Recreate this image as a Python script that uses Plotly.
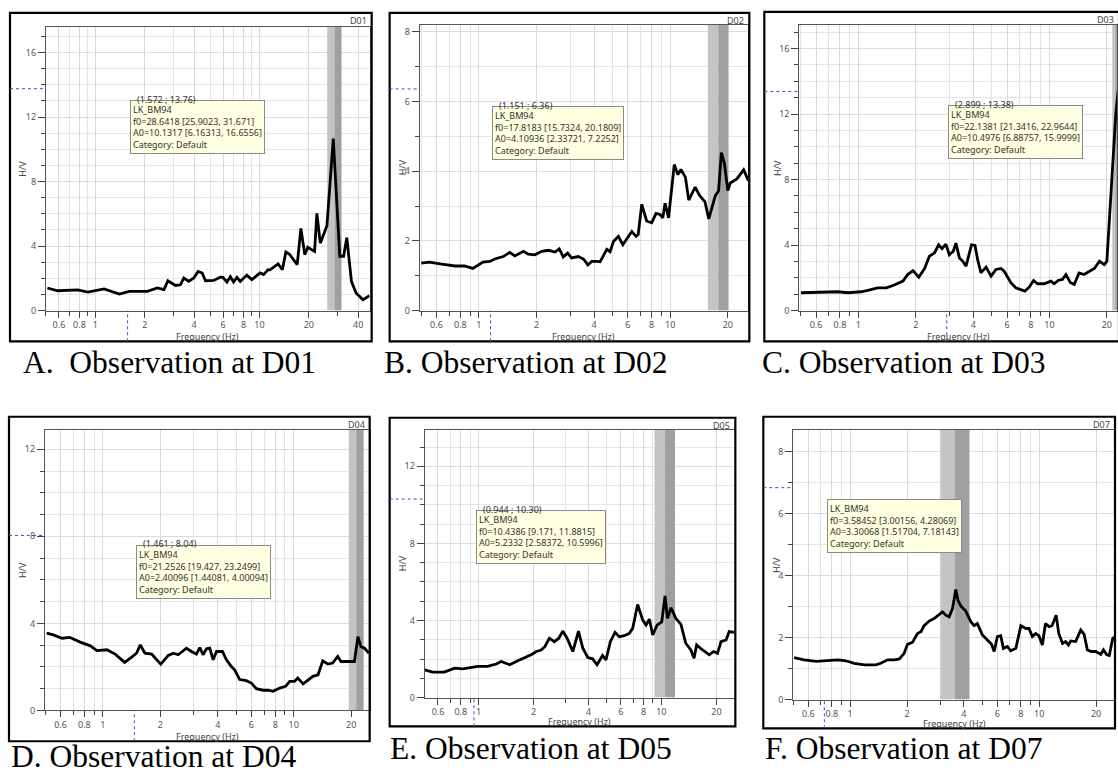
import numpy as np
import plotly.graph_objects as go

W, H = 1118, 778

# ---------------- data ----------------
d01_freq = [0.51, 0.59, 0.78, 0.90, 1.13, 1.40, 1.61, 2.07, 2.39, 2.62, 2.77, 3.08, 3.30, 3.46, 3.71,
            3.98, 4.23, 4.48, 4.69, 5.26, 5.78, 5.99, 6.34, 6.65, 6.96, 7.30, 7.64, 8.38, 8.99, 10.1,
            10.6, 11.3, 11.6, 13.0, 13.8, 14.5, 15.2, 17.0, 17.9, 18.9, 19.7, 21.7, 22.4, 23.5, 25.8,
            28.2, 30.9, 32.6, 34.1, 36.4, 38.9, 42.8, 46.9]
d01_hv = [1.40, 1.23, 1.28, 1.15, 1.34, 1.03, 1.19, 1.19, 1.40, 1.30, 1.85, 1.56, 1.60, 2.02, 1.81,
          2.02, 2.43, 2.33, 1.85, 1.87, 2.07, 2.06, 1.77, 2.10, 1.77, 2.06, 1.81, 2.20, 1.92, 2.33,
          2.23, 2.54, 2.53, 2.89, 2.54, 3.63, 3.51, 2.85, 5.10, 3.47, 3.92, 3.67, 6.03, 4.18, 5.26,
          10.66, 3.37, 3.37, 4.52, 1.80, 1.08, 0.67, 0.92]

d02_freq = [0.50, 0.55, 0.64, 0.75, 0.84, 0.93, 1.05, 1.14, 1.21, 1.34, 1.45, 1.54, 1.71, 1.81, 1.96,
            2.13, 2.31, 2.50, 2.63, 2.76, 2.91, 3.05, 3.31, 3.52, 3.71, 3.89, 4.13, 4.30, 4.66, 4.85,
            5.05, 5.36, 5.65, 5.93, 6.30, 6.63, 6.80, 7.10, 7.53, 8.00, 8.43, 8.85, 9.14, 9.40, 9.80,
            10.5, 10.97, 11.37, 12.0, 12.5, 13.5, 14.3, 15.2, 15.9, 17.2, 17.9, 18.5, 19.2, 20.0,
            20.6, 22.3, 24.2, 25.6]
d02_hv = [1.36, 1.39, 1.33, 1.28, 1.28, 1.21, 1.39, 1.41, 1.48, 1.55, 1.67, 1.57, 1.70, 1.62, 1.60,
          1.70, 1.73, 1.68, 1.77, 1.54, 1.65, 1.51, 1.55, 1.48, 1.31, 1.41, 1.41, 1.40, 1.76, 1.69,
          1.98, 2.13, 1.89, 2.05, 2.27, 2.13, 2.18, 3.05, 2.57, 2.52, 2.79, 2.76, 2.66, 3.08, 2.66,
          4.19, 3.90, 4.05, 3.83, 3.17, 3.54, 3.29, 3.12, 2.63, 3.29, 3.44, 4.53, 4.22, 3.44,
          3.66, 3.78, 4.04, 3.73]

d03_freq = [0.50, 0.64, 0.78, 0.88, 1.03, 1.12, 1.26, 1.40, 1.54, 1.71, 1.81, 1.93, 2.07, 2.22, 2.35,
            2.50, 2.63, 2.74, 2.87, 2.99, 3.14, 3.24, 3.38, 3.52, 3.66, 3.91, 4.08, 4.21, 4.38, 4.66,
            4.95, 5.25, 5.58, 5.80, 6.28, 6.67, 7.10, 7.44, 7.84, 8.26, 8.67, 9.39, 10.2, 10.6, 11.1,
            11.7, 12.2, 12.9, 13.5, 14.3, 15.2, 16.2, 17.2, 18.3, 19.4, 20.0, 21.0, 22.3, 23.0]
d03_hv = [1.09, 1.13, 1.15, 1.09, 1.15, 1.23, 1.39, 1.39, 1.56, 1.80, 2.20, 2.44, 2.04, 2.57, 3.31,
          3.52, 4.02, 3.78, 4.06, 3.41, 3.62, 4.12, 3.21, 3.01, 2.71, 4.02, 3.98, 3.11, 2.30, 2.65,
          2.10, 2.51, 2.57, 2.40, 1.70, 1.39, 1.29, 1.19, 1.43, 1.84, 1.64, 1.64, 1.80, 1.64, 1.84,
          1.90, 2.20, 1.70, 1.60, 2.30, 2.20, 2.40, 2.57, 3.01, 2.81, 3.01, 6.85, 12.1, 13.6]

d04_freq = [0.507, 0.55, 0.61, 0.67, 0.76, 0.86, 0.93, 1.05, 1.16, 1.30, 1.41, 1.50, 1.57, 1.66, 1.80,
            2.01, 2.20, 2.34, 2.48, 2.74, 2.91, 3.09, 3.22, 3.35, 3.49, 3.63, 3.78, 3.94, 4.23, 4.44,
            4.71, 4.90, 5.21, 5.64, 6.00, 6.37, 6.91, 7.34, 7.79, 8.44, 9.07, 9.52, 10.1, 10.5, 11.2,
            11.9, 12.6, 13.4, 14.2, 15.1, 16.0, 17.0, 17.7, 19.6, 20.8, 21.7, 22.5, 23.5, 24.8]
d04_hv = [3.55, 3.47, 3.32, 3.36, 3.14, 2.97, 2.75, 2.79, 2.59, 2.21, 2.44, 2.63, 3.01, 2.63, 2.59,
          2.13, 2.53, 2.63, 2.56, 2.86, 2.71, 2.59, 2.89, 2.56, 2.83, 2.86, 2.33, 2.71, 2.71, 2.33,
          2.02, 1.87, 1.42, 1.37, 1.26, 1.00, 0.93, 0.93, 0.88, 1.03, 1.11, 1.34, 1.34, 1.49, 1.22,
          1.42, 1.57, 1.64, 2.28, 2.13, 2.18, 2.48, 2.25, 2.25, 2.25, 3.39, 2.94, 2.86, 2.63]

d05_freq = [0.507, 0.56, 0.65, 0.74, 0.82, 0.91, 0.99, 1.12, 1.25, 1.33, 1.48, 1.64, 1.82, 1.94, 2.07,
            2.20, 2.31, 2.44, 2.60, 2.75, 2.89, 3.05, 3.28, 3.52, 3.72, 3.96, 4.21, 4.45, 4.77, 4.98,
            5.26, 5.58, 5.89, 6.27, 6.68, 6.97, 7.42, 7.91, 8.25, 8.60, 8.97, 9.47, 10.05, 10.48, 10.8,
            11.3, 12.0, 12.8, 13.6, 14.5, 15.1, 15.6, 16.8, 18.3, 19.3, 20.3, 21.2, 22.6, 23.5, 25.0]
d05_hv = [1.44, 1.32, 1.32, 1.53, 1.49, 1.56, 1.62, 1.62, 1.74, 1.87, 1.70, 1.91, 2.08, 2.22, 2.39,
          2.47, 2.65, 3.08, 2.90, 3.08, 3.45, 3.08, 2.39, 3.45, 2.56, 2.08, 2.01, 1.70, 2.18, 1.96,
          2.90, 3.38, 3.16, 3.21, 3.33, 3.59, 4.83, 4.02, 3.76, 4.07, 3.25, 3.76, 3.93, 5.27, 4.11,
          4.66, 4.11, 3.80, 2.82, 2.47, 2.04, 2.73, 2.47, 2.22, 2.39, 2.30, 2.90, 2.99, 3.42, 3.38]

d07_freq = [0.505, 0.57, 0.66, 0.76, 0.86, 0.95, 1.05, 1.19, 1.37, 1.45, 1.58, 1.71, 1.82, 1.93, 2.01,
            2.14, 2.27, 2.37, 2.46, 2.62, 2.78, 2.93, 3.08, 3.21, 3.34, 3.48, 3.62, 3.72, 3.85, 4.09,
            4.35, 4.53, 4.71, 5.01, 5.33, 5.60, 5.78, 6.01, 6.26, 6.47, 6.79, 7.07, 7.53, 8.00, 8.50,
            8.84, 9.20, 9.58, 9.97, 10.4, 10.8, 11.3, 11.7, 12.3, 12.7, 13.3, 13.8, 14.3, 14.7, 15.6,
            16.6, 17.3, 18.0, 18.9, 19.9, 21.2, 21.9, 22.8, 23.5, 24.5, 25.2]
d07_hv = [1.35, 1.28, 1.23, 1.25, 1.28, 1.25, 1.17, 1.12, 1.12, 1.17, 1.28, 1.28, 1.31, 1.49, 1.78,
          1.85, 2.13, 2.19, 2.38, 2.53, 2.61, 2.72, 2.83, 2.72, 2.67, 2.93, 3.55, 3.20, 3.02, 2.85,
          2.51, 2.38, 2.45, 2.08, 1.92, 1.78, 1.55, 2.03, 2.06, 1.65, 1.71, 1.57, 1.65, 2.38, 2.29,
          2.29, 2.03, 2.13, 2.06, 1.76, 2.45, 2.35, 2.38, 2.72, 2.13, 1.81, 1.87, 1.76, 1.89, 1.87,
          2.24, 2.10, 1.60, 1.55, 1.55, 1.46, 1.60, 1.44, 1.42, 1.97, 2.03]

station_ids = ["D01", "D02", "D03", "D04", "D05", "D07"]
caption_texts = ["A.  Observation at D01", "B. Observation at D02", "C. Observation at D03",
                 "D. Observation at D04", "E. Observation at D05", "F. Observation at D07"]
f0_values = [28.6418, 17.8183, 22.1381, 21.2526, 10.4386, 3.58452]
f0_low = [25.9023, 15.7324, 21.3416, 19.427, 9.171, 3.00156]
f0_high = [31.671, 20.1809, 22.9644, 23.2499, 11.8815, 4.28069]
a0_values = ["10.1317", "4.10936", "10.4976", "2.40096", "5.2332", "3.30068"]
a0_low = ["6.16313", "2.33721", "6.88757", "1.44081", "2.58372", "1.51704"]
a0_high = ["16.6556", "7.2252", "15.9999", "4.00094", "10.5996", "7.18143"]
f0_texts = ["28.6418", "17.8183", "22.1381", "21.2526", "10.4386", "3.58452"]
f0_low_texts = ["25.9023", "15.7324", "21.3416", "19.427", "9.171", "3.00156"]
f0_high_texts = ["31.671", "20.1809", "22.9644", "23.2499", "11.8815", "4.28069"]
cursor_f = [1.572, 1.151, 2.899, 1.461, 0.944, 0.73]
cursor_hv = [13.76, 6.36, 13.38, 8.04, 10.30, 6.83]
cursor_texts = ["(1.572 ; 13.76)", "(1.151 ; 6.36)", "(2.899 ; 13.38)", "(1.461 ; 8.04)",
                "(0.944 ; 10.30)", None]

freqs = [d01_freq, d02_freq, d03_freq, d04_freq, d05_freq, d07_freq]
hvs = [d01_hv, d02_hv, d03_hv, d04_hv, d05_hv, d07_hv]

x_range = [(0.5, 47.0), (0.49, 25.6), (0.49, 22.6), (0.497, 25.0), (0.507, 25.4), (0.5, 25.2)]
y_max = [17.6, 8.2, 17.45, 12.9, 13.9, 8.7]
y_major_step = [4, 2, 4, 4, 4, 2]
x_major = [0.6, 0.8, 1, 2, 4, 6, 8, 10, 20, 40]
x_major_text = ["0.6", "0.8", "1", "2", "4", "6", "8", "10", "20", "40"]
x_minor = [0.5, 0.7, 0.9, 3, 5, 7, 9, 30, 50]

# ---------------- layout boxes (pixels) ----------------
plot_px = [(46, 27, 370, 313), (420, 25, 749, 313), (800, 25, 1118, 313),
           (45, 433, 370, 716), (425, 433, 736, 703), (794, 433, 1116, 705)]
frame_px = [(10, 13, 372, 344), (390, 13, 750, 344), (765, 12, 1120, 344),
            (9, 420, 370, 747), (390, 421, 736, 732), (764, 420, 1116, 734)]
caption_px = [(21, 365), (382, 365), (761, 365), (9, 762), (388, 754), (764, 754)]
tooltip_px = [(130, 101), (492, 107), (949, 106), (136, 549), (476, 514), (828, 503)]


def fx(px):
    return px / W


def fy(py):
    return 1 - py / H


fig = go.Figure()
shapes = []
annotations = []
layout = dict(width=W, height=H, margin=dict(l=0, r=0, t=0, b=0),
              paper_bgcolor="white", plot_bgcolor="white", showlegend=False)

tick_font = dict(family="Noto Sans", size=9, color="#555555")
small_font = dict(family="Noto Sans", size=9, color="#444444")

for i in range(6):
    n = i + 1
    sx = "" if n == 1 else str(n)
    x0, y0, x1, y1 = plot_px[i]
    xr = x_range[i]
    ymax = y_max[i]
    majors_y = list(range(0, int(ymax) + 1, y_major_step[i]))

    # f0 bands drawn as filled traces so they sit above the grid and below the curve
    fig.add_trace(go.Scatter(x=[f0_low[i], f0_low[i], f0_values[i], f0_values[i]],
                             y=[0, ymax, ymax, 0], mode="lines", fill="toself",
                             fillcolor="#c4c4c4", line=dict(width=0),
                             xaxis="x" + sx, yaxis="y" + sx, hoverinfo="skip"))
    fig.add_trace(go.Scatter(x=[f0_values[i], f0_values[i], f0_high[i], f0_high[i]],
                             y=[0, ymax, ymax, 0], mode="lines", fill="toself",
                             fillcolor="#a0a0a0", line=dict(width=0),
                             xaxis="x" + sx, yaxis="y" + sx, hoverinfo="skip"))

    fig.add_trace(go.Scatter(x=freqs[i], y=hvs[i], mode="lines",
                             line=dict(color="black", width=2.8),
                             xaxis="x" + sx, yaxis="y" + sx, hoverinfo="skip"))

    layout["xaxis" + sx] = dict(
        domain=[fx(x0), fx(x1)], anchor="y" + sx, type="log",
        range=[np.log10(xr[0]), np.log10(xr[1])],
        tickmode="array", tickvals=x_major, ticktext=x_major_text,
        ticks="outside", ticklen=6, tickcolor="#444444", tickwidth=1,
        showgrid=True, gridcolor="#d9d9d9", gridwidth=1,
        minor=dict(tickmode="array", tickvals=x_minor, ticks="outside", ticklen=4,
                   tickcolor="#444444", showgrid=True, gridcolor="#e4e4e4"),
        showline=True, linecolor="#555555", linewidth=1, mirror=True,
        tickfont=tick_font, zeroline=False, fixedrange=True)
    layout["yaxis" + sx] = dict(
        domain=[fy(y1), fy(y0)], anchor="x" + sx, range=[0, ymax],
        tickmode="array", tickvals=majors_y, ticktext=[str(v) for v in majors_y],
        ticks="outside", ticklen=7, tickcolor="#444444",
        showgrid=True, gridcolor="#dcdcdc",
        minor=dict(dtick=1, ticks="outside", ticklen=4, tickcolor="#444444",
                   showgrid=True, gridcolor="#e6e6e6"),
        showline=True, linecolor="#555555", linewidth=1, mirror=True,
        tickfont=tick_font, zeroline=False, fixedrange=True)

    # outer frame
    fxa, fya, fxb, fyb = frame_px[i]
    shapes.append(dict(type="rect", xref="paper", yref="paper",
                       x0=fx(fxa), x1=fx(fxb), y0=fy(fyb), y1=fy(fya),
                       line=dict(color="black", width=2.2), fillcolor="rgba(0,0,0,0)"))

    # cursor markers
    shapes.append(dict(type="line", xref="paper", yref="y" + sx,
                       x0=fx(fxa), x1=fx(x0), y0=cursor_hv[i], y1=cursor_hv[i],
                       line=dict(color="#3a4fd0", width=1, dash="dot")))
    shapes.append(dict(type="line", xref="x" + sx, yref="paper",
                       x0=cursor_f[i], x1=cursor_f[i], y0=fy(fyb), y1=fy(y1),
                       line=dict(color="#3a4fd0", width=1, dash="dot")))

    # station id
    annotations.append(dict(text=station_ids[i], xref="paper", yref="paper",
                            x=fx(fxb - 3), y=fy(fya + 8), xanchor="right", yanchor="middle",
                            showarrow=False, font=small_font))
    # axis titles
    annotations.append(dict(text="H/V", xref="paper", yref="paper",
                            x=fx(fxa + 13), y=fy((y0 + y1) / 2), textangle=-90,
                            xanchor="center", yanchor="middle", showarrow=False, font=small_font))
    annotations.append(dict(text="Frequency (Hz)", xref="paper", yref="paper",
                            x=fx((x0 + x1) / 2), y=fy(fyb - 5), xanchor="center", yanchor="middle",
                            showarrow=False, font=small_font))
    # tooltip
    tx, ty = tooltip_px[i]
    lines = ["LK_BM94",
             "f0=%s [%s, %s]" % (f0_texts[i], f0_low_texts[i], f0_high_texts[i]),
             "A0=%s [%s, %s]" % (a0_values[i], a0_low[i], a0_high[i]),
             "Category: Default"]
    annotations.append(dict(text="<br>".join(lines), xref="paper", yref="paper",
                            x=fx(tx), y=fy(ty), xanchor="left", yanchor="top", align="left",
                            showarrow=False, bgcolor="#ffffe1", bordercolor="#8a8a8a",
                            borderwidth=1, borderpad=2,
                            font=dict(family="Noto Sans", size=9, color="#333333")))
    if cursor_texts[i]:
        annotations.append(dict(text=cursor_texts[i], xref="paper", yref="paper",
                                x=fx(tx + 5), y=fy(ty - 1), xanchor="left", yanchor="middle",
                                showarrow=False,
                                font=dict(family="Noto Sans", size=9, color="#333333")))
    # caption
    cx, cy = caption_px[i]
    annotations.append(dict(text=caption_texts[i], xref="paper", yref="paper",
                            x=fx(cx), y=fy(cy), xanchor="left", yanchor="middle",
                            showarrow=False,
                            font=dict(family="Liberation Serif", size=31.5, color="black")))

layout["shapes"] = shapes
layout["annotations"] = annotations
fig.update_layout(**layout)
fig.write_html("out.html")
